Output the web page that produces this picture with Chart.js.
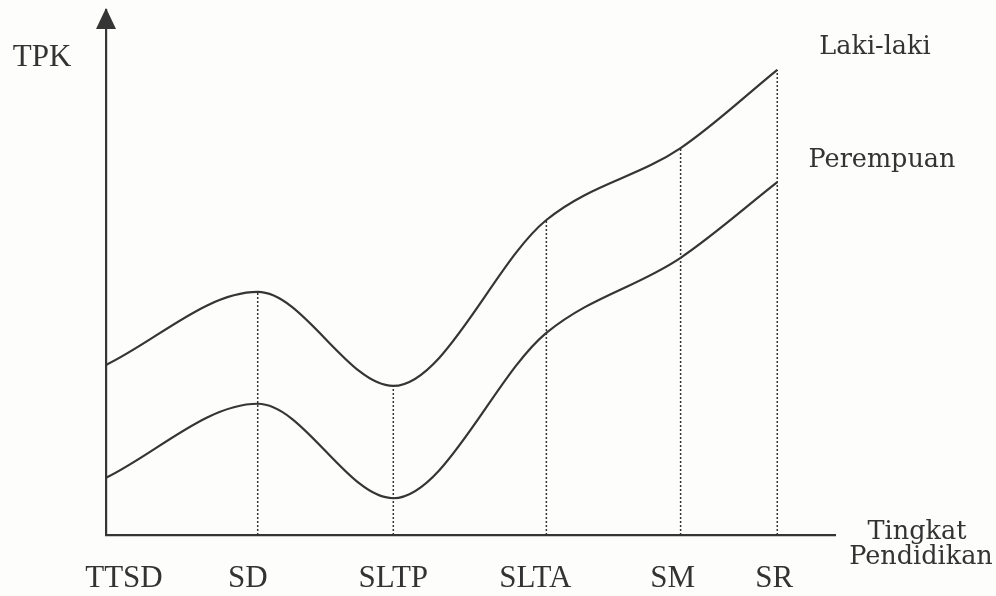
<!DOCTYPE html>
<html>
<head>
<meta charset="utf-8">
<script src="https://cdn.jsdelivr.net/npm/chart.js@4/dist/chart.umd.min.js"></script>
<style>
  html, body { margin: 0; padding: 0; background: #fdfdfb; }
  canvas { display: block; }
</style>
</head>
<body>
<canvas id="tpkChart" width="996" height="596"></canvas>
<script>
// education levels and where each one sits along the x axis (as printed)
const levels = ['TTSD', 'SD', 'SLTP', 'SLTA', 'SM', 'SR'];
const levelX = [0, 1.13, 2.14, 3.28, 4.28, 5];

// TPK (0 = x axis, 100 = top of the y axis)
const lakiLaki = [32.4, 46.3, 28.4, 60.0, 73.7, 88.6];
const perempuan = [10.9, 25.0, 7.0, 38.5, 52.8, 67.2];

const ink = '#353535';

function toPoints(values) {
    return values.map((v, i) => ({ x: levelX[i], y: v }));
}

// dotted guides from the axis up to the Laki-laki curve (not at TTSD)
const guides = levels.slice(1).map((name, k) => {
    const i = k + 1;
    return {
        label: 'guide ' + name,
        data: [{ x: levelX[i], y: 0 }, { x: levelX[i], y: lakiLaki[i] }],
        borderColor: ink,
        borderWidth: 1.5,
        borderDash: [2, 2],
        pointRadius: 0,
        tension: 0
    };
});

// axis arrow, category names and the text labels
const annotations = {
    id: 'annotations',
    afterDraw(chart) {
        const ctx = chart.ctx;
        const x = chart.scales.x;
        const area = chart.chartArea;
        const nudge = [18, -10, 0, -11, -8, -3]; // labels are not quite centred under the guides

        ctx.save();
        ctx.fillStyle = ink;
        ctx.beginPath();
        ctx.moveTo(area.left, area.top - 2);
        ctx.lineTo(area.left - 10, area.top + 19);
        ctx.lineTo(area.left + 10, area.top + 19);
        ctx.closePath();
        ctx.fill();

        ctx.fillStyle = '#333';
        ctx.textAlign = 'center';
        ctx.textBaseline = 'middle';
        ctx.font = '31px "Liberation Serif"';
        levels.forEach((name, i) => {
            const px = x.getPixelForValue(levelX[i]) + nudge[i];
            ctx.fillText(name, px, area.bottom + 44);
        });
        ctx.fillText('TPK', 42, 58);

        ctx.font = '25.5px "DejaVu Serif"';
        ctx.fillText('Laki-laki', 875, 47);
        ctx.fillText('Perempuan', 882, 160);
        ctx.fillText('Tingkat', 917, 532);
        ctx.fillText('Pendidikan', 921, 557);
        ctx.restore();
    }
};

const ctx = document.getElementById('tpkChart').getContext('2d');
const tpkChart = new Chart(ctx, {
    type: 'line',
    data: {
        datasets: [
            {
                label: 'Laki-laki',
                data: toPoints(lakiLaki),
                borderColor: ink,
                borderWidth: 2.2,
                pointRadius: 0,
                cubicInterpolationMode: 'monotone'
            },
            {
                label: 'Perempuan',
                data: toPoints(perempuan),
                borderColor: ink,
                borderWidth: 2.2,
                pointRadius: 0,
                cubicInterpolationMode: 'monotone'
            },
            ...guides
        ]
    },
    options: {
        responsive: false,
        animation: false,
        layout: { padding: { left: 106, right: 161, top: 10, bottom: 61 } },
        plugins: {
            legend: { display: false },
            tooltip: { enabled: false }
        },
        scales: {
            x: {
                type: 'linear',
                min: 0,
                max: 5.43,
                ticks: { display: false },
                grid: { display: false, drawTicks: false },
                border: { display: true, color: ink, width: 2.2 }
            },
            y: {
                min: 0,
                max: 100,
                ticks: { display: false },
                grid: { display: false, drawTicks: false },
                border: { display: true, color: ink, width: 2.2 }
            }
        }
    },
    plugins: [annotations]
});
</script>
</body>
</html>
